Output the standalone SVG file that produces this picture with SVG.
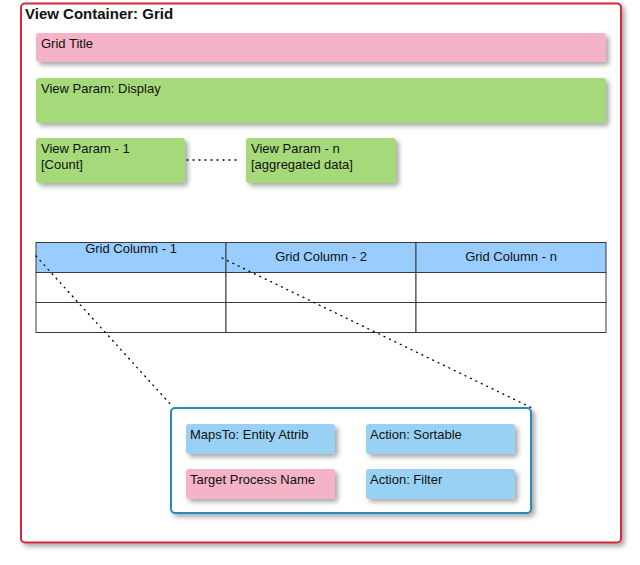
<svg xmlns="http://www.w3.org/2000/svg" width="640" height="565" viewBox="0 0 640 565">
<defs>
<filter id="sh" x="-10%" y="-10%" width="130%" height="140%">
<feGaussianBlur in="SourceAlpha" stdDeviation="2.5"/>
<feOffset dx="3" dy="3" result="b"/>
<feComponentTransfer><feFuncA type="linear" slope="0.35"/></feComponentTransfer>
<feMerge><feMergeNode/><feMergeNode in="SourceGraphic"/></feMerge>
</filter>
<style>
text{font-family:"Liberation Sans",Arial,sans-serif;font-size:13px;fill:#111}
.pink{fill:#f4b3c6}
.green{fill:#a5d979}
.blue{fill:#99d1f4}
.hdr{fill:#99ccff;stroke:#3a3a3a;stroke-width:1}
.cell{fill:#fff;stroke:#3a3a3a;stroke-width:1}
.dot{fill:none;stroke:#000;stroke-width:1.3;stroke-dasharray:1 5;stroke-linecap:round}
</style>
</defs>
<g id="container">
<rect x="21" y="3.5" width="600" height="539" rx="4" fill="#fff" stroke="#d0293a" stroke-width="2" filter="url(#sh)"/>
<text x="25" y="19" style="font-weight:bold;font-size:15px">View Container: Grid</text>
</g>
<g id="grid-title">
<rect class="pink" x="36" y="33" width="570" height="29" rx="3" filter="url(#sh)"/>
<text x="41" y="48">Grid Title</text>
</g>
<g id="view-param-display">
<rect class="green" x="36" y="78" width="570" height="45" rx="3" filter="url(#sh)"/>
<text x="41" y="93">View Param:  Display</text>
</g>
<g id="view-param-1">
<rect class="green" x="36" y="138" width="149" height="45" rx="3" filter="url(#sh)"/>
<text x="41" y="153">View Param - 1</text>
<text x="41" y="169">[Count]</text>
</g>
<g id="view-param-n">
<rect class="green" x="246" y="138" width="150" height="45" rx="3" filter="url(#sh)"/>
<text x="251" y="153">View Param - n</text>
<text x="251" y="169">[aggregated data]</text>
</g>
<g id="grid-table">
<rect class="hdr" x="36" y="242.5" width="190" height="30"/>
<rect class="hdr" x="226" y="242.5" width="190" height="30"/>
<rect class="hdr" x="416" y="242.5" width="190" height="30"/>
<rect class="cell" x="36" y="272.5" width="190" height="30"/>
<rect class="cell" x="226" y="272.5" width="190" height="30"/>
<rect class="cell" x="416" y="272.5" width="190" height="30"/>
<rect class="cell" x="36" y="302.5" width="190" height="30"/>
<rect class="cell" x="226" y="302.5" width="190" height="30"/>
<rect class="cell" x="416" y="302.5" width="190" height="30"/>
<text x="131" y="253" text-anchor="middle">Grid Column - 1</text>
<text x="321" y="261" text-anchor="middle">Grid Column - 2</text>
<text x="511" y="261" text-anchor="middle">Grid Column - n</text>
</g>
<g id="column-details">
<rect x="171" y="408" width="360" height="105" rx="4" fill="#fff" stroke="#2e86c1" stroke-width="2" filter="url(#sh)"/>
</g>
<g id="maps-to">
<rect class="blue" x="186" y="424" width="149" height="30" rx="3" filter="url(#sh)"/>
<text x="190" y="439">MapsTo: Entity Attrib</text>
</g>
<g id="action-sortable">
<rect class="blue" x="366" y="424" width="149" height="30" rx="3" filter="url(#sh)"/>
<text x="370" y="439">Action: Sortable</text>
</g>
<g id="target-process">
<rect class="pink" x="186" y="469" width="149" height="30" rx="3" filter="url(#sh)"/>
<text x="190" y="484">Target Process Name</text>
</g>
<g id="action-filter">
<rect class="blue" x="366" y="469" width="149" height="30" rx="3" filter="url(#sh)"/>
<text x="370" y="484">Action: Filter</text>
</g>
<g id="connectors">
<line class="dot" x1="187" y1="160" x2="240" y2="160"/>
<line class="dot" x1="36" y1="256" x2="172" y2="406"/>
<line class="dot" x1="222" y1="258" x2="532" y2="408"/>
</g>
</svg>
